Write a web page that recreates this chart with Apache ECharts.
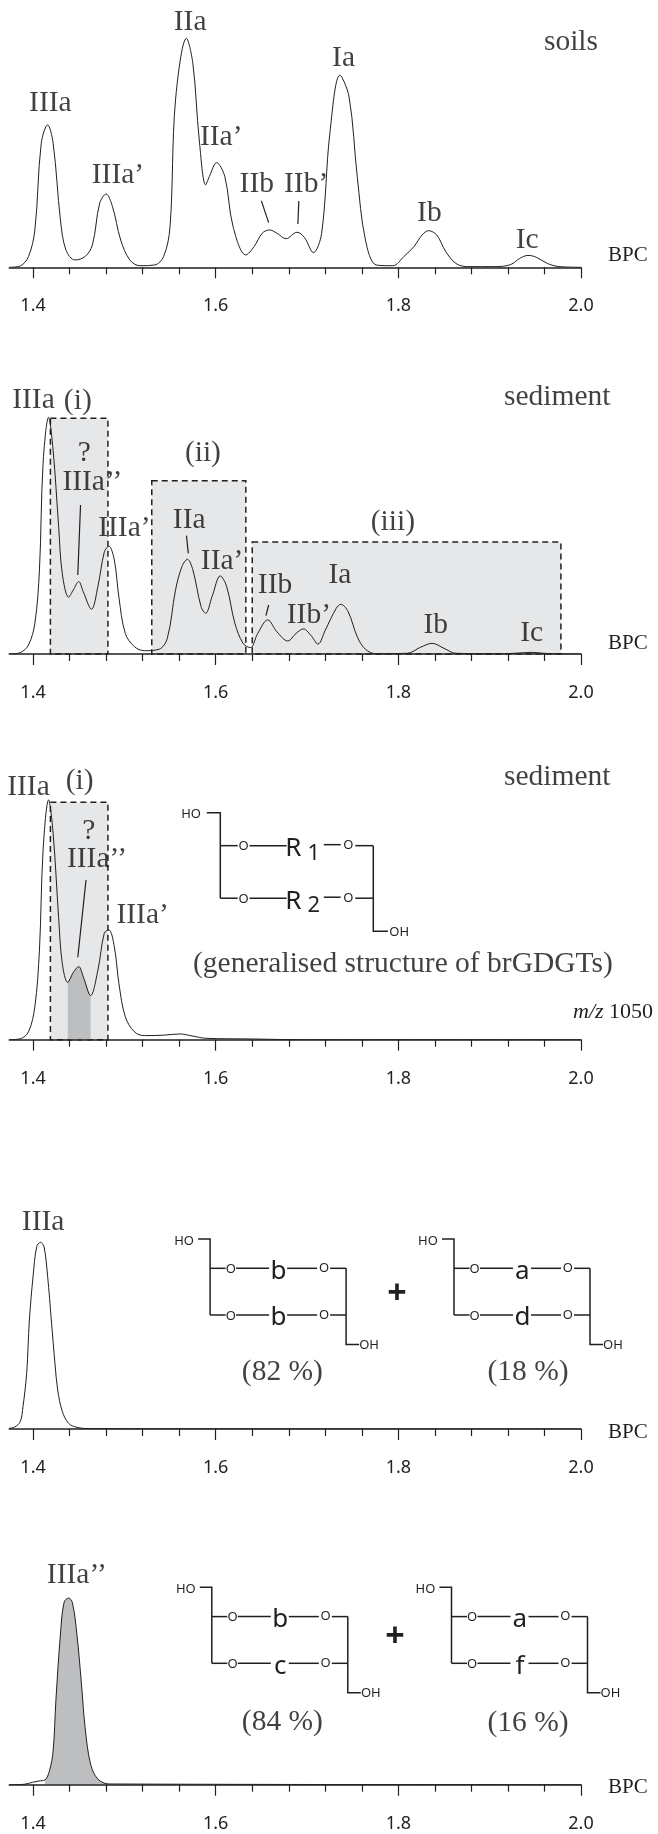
<!DOCTYPE html>
<html><head><meta charset="utf-8">
<style>html,body{margin:0;padding:0;background:#fff}#c{width:658px;height:1834px}</style>
<script src="https://cdn.jsdelivr.net/npm/echarts@6/dist/echarts.min.js"></script>
</head><body><div id="c"></div>
<script>
// ---------- data: retention-like axis value (BPC trace) and relative intensity ----------
const majorTicks=[1.4,1.6,1.8,2.0];
const minorTicks=[1.44,1.48,1.52,1.56,1.64,1.68,1.72,1.76,1.84,1.88,1.92,1.96];

const soilX=[1.374,1.386,1.395,1.402,1.409,1.416,1.422,1.430,1.436,1.446,1.457,1.465,1.473,1.480,1.487,1.496,1.506,1.517,1.533,1.543,1.550,1.556,1.568,1.575,1.582,1.589,1.593,1.601,1.610,1.619,1.633,1.642,1.651,1.659,1.667,1.677,1.689,1.697,1.707,1.716,1.725,1.736,1.746,1.755,1.764,1.776,1.794,1.806,1.817,1.826,1.833,1.842,1.852,1.863,1.875,1.907,1.923,1.933,1.942,1.951,1.963,1.976,2.0];
const soilY=[0,0.6,4.7,16.3,54.2,62.2,54.2,20.7,7.6,3.2,4.7,9.8,28,32,26.5,11.9,3.2,0.7,1,4.7,17.8,73,100,89,55.6,36,39.6,45.7,39.6,17.8,5.4,9,14.9,16.3,14.9,12.5,15.3,13.1,6.4,14.9,58.5,83.9,74.5,39.6,11.9,1,0.7,4.7,9,14.1,16,14.1,6.8,1.7,0.3,0.3,1.2,3.9,5.2,4.4,1.7,0.3,0];

const sedAX=[1.374,1.386,1.395,1.402,1.407,1.411,1.417,1.422,1.428,1.432,1.439,1.444,1.450,1.455,1.464,1.471,1.478,1.483,1.489,1.494,1.501,1.511,1.522,1.538,1.547,1.556,1.563,1.569,1.575,1.584,1.589,1.596,1.605,1.612,1.621,1.630,1.638,1.646,1.657,1.667,1.679,1.688,1.696,1.704,1.712,1.720,1.732,1.737,1.745,1.755,1.764,1.776,1.810,1.824,1.837,1.850,1.863,1.916,1.946,1.966,2.0];
const sedAY=[0,0.6,3.8,13,35.5,80.6,100,86,54,34,24,27,30.6,26.3,18.9,28.5,43,45.6,39.7,24,8.7,3.1,1.4,2,6.6,27,36.9,40,35.5,20,17.2,24.2,33,28.5,13,4.5,2.7,8.7,14.4,9.4,5.5,8.7,10.6,8,4.2,10.1,19.3,21,17.9,7.3,2,0.1,0.3,2.8,4.5,2.4,0.3,0.1,0.7,0.1,0];

const sedBX=[1.374,1.386,1.395,1.402,1.407,1.411,1.417,1.422,1.428,1.432,1.438,1.444,1.450,1.455,1.463,1.471,1.478,1.483,1.489,1.494,1.501,1.511,1.522,1.543,1.561,1.575,1.589,1.640,1.695,2.0];
const sedBY=[0,0.4,3.3,13.8,37.4,79,100,86,51,31.8,23.9,28,30.5,26.3,18.4,29,44.4,45.8,38.8,23.5,9.6,3.3,1.7,1.9,2.4,1.5,0.6,0.3,0,0];

const stdAX=[1.374,1.380,1.386,1.389,1.393,1.396,1.400,1.404,1.408,1.412,1.416,1.420,1.424,1.427,1.432,1.439,1.448,1.462,2.0];
const stdAY=[0.4,1.1,3.9,12,29.8,58.4,81.6,97.7,100,97.7,81.6,58.4,35.2,20.9,9.5,3,0.9,0.2,0];

const stdBX=[1.374,1.390,1.3995,1.4065,1.413,1.418,1.422,1.425,1.430,1.434,1.439,1.443,1.448,1.453,1.457,1.463,1.471,1.483,2.0];
const stdBY=[0,0.2,1.3,2,2.5,7.5,18.2,45,80.7,97.7,100,97.7,80.7,54,30.7,11,3,0.4,0];

// ---------- annotations: text, and where it sits in axis units ----------
const soilNames=['IIIa','IIIa’','IIa','IIa’','IIb','IIb’','Ia','Ib','Ic','soils'];
const soilNameX=[1.419,1.493,1.572,1.606,1.645,1.699,1.740,1.834,1.941,1.989];
const soilNameY=[72.4,41,107.7,57.4,37,37,92,24.3,12.4,99];
const soilLeaders=[[1.650,29,1.658,19.5],[1.691,29,1.690,18.9]];

const sedANames=['IIIa','(i)','?','IIIa’’','IIIa’','(ii)','IIa','IIa’','IIb','IIb’','Ia','(iii)','Ib','Ic','sediment'];
const sedANameX=[1.4005,1.449,1.456,1.465,1.500,1.586,1.571,1.607,1.665,1.702,1.736,1.794,1.841,1.946,1.974];
const sedANameY=[108,107.6,85.5,73,53.8,85.5,57.3,40,29.6,17.2,33.8,56.2,12.7,9.4,109];
const sedALeaders=[[1.452,63,1.449,33.4],[1.568,50,1.570,42.5],[1.658,20.7,1.655,16.2]];
const sedABoxes=[[1.419,1.482,99.6],[1.530,1.633,73.2],[1.640,1.978,47.3]];

const sedBNames=['IIIa','(i)','?','IIIa’’','IIIa’','sediment','(generalised structure of brGDGTs)'];
const sedBNameX=[1.395,1.451,1.461,1.470,1.520,1.974,1.805];
const sedBNameY=[106,108.3,87.5,76,52.7,110,32];
const sedBLeaders=[[1.458,66.6,1.449,34.4]];
const sedBBoxes=[[1.419,1.482,99]];
const sedBShade=[1.438,1.463];

const stdANames=['IIIa','(82 %)','(18 %)'];
const stdANameX=[1.411,1.673,1.942];
const stdANameY=[111.6,31.3,31.3];

const stdBNames=['IIIa’’','(84 %)','(16 %)'];
const stdBNameX=[1.448,1.673,1.942];
const stdBNameY=[112.9,34.3,33.8];
const stdBShade=[1.413,1.483];

// ---------- styling & layout ----------
const INK='#231f20', BOX='#e6e7e8', SHADE='#bcbec0';
const SERIF='"Liberation Serif",serif', SANS='"Noto Sans",sans-serif';
const panels=[
 {top:1.7,h:265.6,max:116,x:soilX,y:soilY,names:soilNames,nx:soilNameX,ny:soilNameY,leaders:soilLeaders,axisName:'BPC',nameUp:12,nameGap:27,nameSize:21},
 {top:370,h:284,max:120,x:sedAX,y:sedAY,names:sedANames,nx:sedANameX,ny:sedANameY,leaders:sedALeaders,boxes:sedABoxes,axisName:'BPC',nameUp:11,nameGap:27,nameSize:21},
 {top:752,h:287.7,max:120,x:sedBX,y:sedBY,names:sedBNames,nx:sedBNameX,ny:sedBNameY,leaders:sedBLeaders,boxes:sedBBoxes,shade:sedBShade,axisName:'{i|m/z} 1050',nameUp:27,nameGap:-8,nameSize:22},
 {top:1205,h:224,max:120,x:stdAX,y:stdAY,names:stdANames,nx:stdANameX,ny:stdANameY,axisName:'BPC',nameUp:-3,nameGap:27,nameSize:21},
 {top:1560.7,h:224,max:120,x:stdBX,y:stdBY,names:stdBNames,nx:stdBNameX,ny:stdBNameY,shade:stdBShade,axisName:'BPC',nameUp:-3,nameGap:27,nameSize:21}
];
const grid=[],xAxis=[],yAxis=[],series=[];
panels.forEach((p,i)=>{
  grid.push({left:9.3,width:571.7,top:p.top,height:p.h});
  const up=p.nameUp;
  xAxis.push({type:'value',gridIndex:i,min:1.374,max:2.0,z:5,splitLine:{show:false},
    axisLine:{onZero:false,lineStyle:{color:INK,width:1.6}},
    axisTick:{length:11,customValues:majorTicks,lineStyle:{color:INK,width:1.2}},
    axisLabel:{customValues:majorTicks,margin:30,color:INK,fontFamily:SANS,fontSize:18,formatter:v=>v.toFixed(1)},
    name:p.axisName,nameLocation:'end',nameGap:p.nameGap,
    nameTextStyle:{color:INK,fontFamily:SERIF,fontSize:p.nameSize,verticalAlign:'middle',
      padding:up>0?[0,0,2*up,0]:[-2*up,0,0,0],
      rich:{i:{fontStyle:'italic',fontFamily:SERIF,fontSize:p.nameSize,color:INK}}}});
  xAxis.push({type:'value',gridIndex:i,min:1.374,max:2.0,z:5,position:'bottom',splitLine:{show:false},
    axisLine:{show:false},axisLabel:{show:false},
    axisTick:{length:7,customValues:minorTicks,lineStyle:{color:INK,width:1.2}}});
  yAxis.push({type:'value',gridIndex:i,min:0,max:p.max,show:false});
  const xi=i*2, pts=p.x.map((x,k)=>[x,p.y[k]]);
  if(p.shade){
    series.push({type:'line',xAxisIndex:xi,yAxisIndex:i,smooth:0.35,showSymbol:false,z:3,silent:true,
      lineStyle:{width:0},areaStyle:{color:SHADE,opacity:1},
      data:pts.filter(d=>d[0]>=p.shade[0]&&d[0]<=p.shade[1])});
  }
  const s={type:'line',xAxisIndex:xi,yAxisIndex:i,smooth:0.35,showSymbol:false,z:4,silent:true,
    lineStyle:{color:INK,width:1},data:pts};
  if(p.boxes) s.markArea={silent:true,z:1,
    itemStyle:{color:BOX,borderColor:INK,borderWidth:1.5,borderType:[6,4]},
    data:p.boxes.map(b=>[{coord:[b[0],b[2]]},{coord:[b[1],0]}])};
  if(p.leaders) s.markLine={silent:true,symbol:'none',label:{show:false},
    lineStyle:{color:INK,width:1.2,type:'solid'},emphasis:{disabled:true},
    data:p.leaders.map(l=>[{coord:[l[0],l[1]]},{coord:[l[2],l[3]]}])};
  series.push(s);
  series.push({type:'scatter',xAxisIndex:xi,yAxisIndex:i,clip:false,symbolSize:1,z:6,silent:true,
    itemStyle:{color:'transparent'},
    label:{show:true,position:'inside',offset:[0,1.5],formatter:'{b}',color:'#111',fontFamily:SERIF,fontSize:29.5,align:'center',verticalAlign:'middle'},
    data:p.names.map((n,k)=>({name:n,value:[p.nx[k],p.ny[k]]}))});
});

// ---------- molecular structure sketches (drawn decoration, not data) ----------
const graphic=[];
function line(points,w){graphic.push({type:'polyline',silent:true,z:10,shape:{points},style:{stroke:INK,lineWidth:w||1.5,fill:null}});}
function text(t,x,y,size,weight){graphic.push({type:'text',silent:true,z:10,x,y,style:{text:t,fill:INK,font:(weight||'normal')+' '+size+'px '+SANS,textAlign:'center',textVerticalAlign:'middle'}});}
function structure(ox,oy,top,bottom,subTop,subBottom,s){
  const X=v=>ox+v*s, rt=s*29.3, rb=s*76;
  line([[X(-12),oy],[ox,oy],[ox,oy+rb]]);
  text('HO',X(-26),oy+2,13);
  line([[X(136),oy+rt],[X(136),oy+rt*3.6],[X(149),oy+rt*3.6]]);
  text('OH',X(159),oy+rt*3.6+1,13);
  [[rt,top,subTop],[rb,bottom,subBottom]].forEach(r=>{
    const y=oy+r[0];
    line([[ox,y],[X(15.5),y]]);
    text('O',X(20.7),y+1,13);
    line([[X(26),y],[X(59),y]]);
    if(r[2]){
      text(r[1],X(65),y+3,26); text(r[2],X(83),y+8,22);
      line([[X(92),y-1],[X(107),y-1]]);
    } else {
      text(r[1],X(68.4),y+3,26);
      line([[X(77),y],[X(107),y]]);
    }
    text('O',X(113.9),y,13);
    line([[X(120),y],[X(136),y]]);
  });
}
structure(220.3,812.7,'R','R','1','2',1.125);
structure(210.1,1239,'b','b',null,null,1);
structure(454,1239,'a','d',null,null,1);
structure(211.8,1587.3,'b','c',null,null,1);
structure(451.5,1587.3,'a','f',null,null,1);
text('+',397,1294,34,'bold');
text('+',395,1637.5,34,'bold');

echarts.init(document.getElementById('c'),null,{renderer:'canvas'}).setOption({
  animation:false,backgroundColor:'#fff',grid,xAxis,yAxis,series,graphic
});
</script></body></html>
